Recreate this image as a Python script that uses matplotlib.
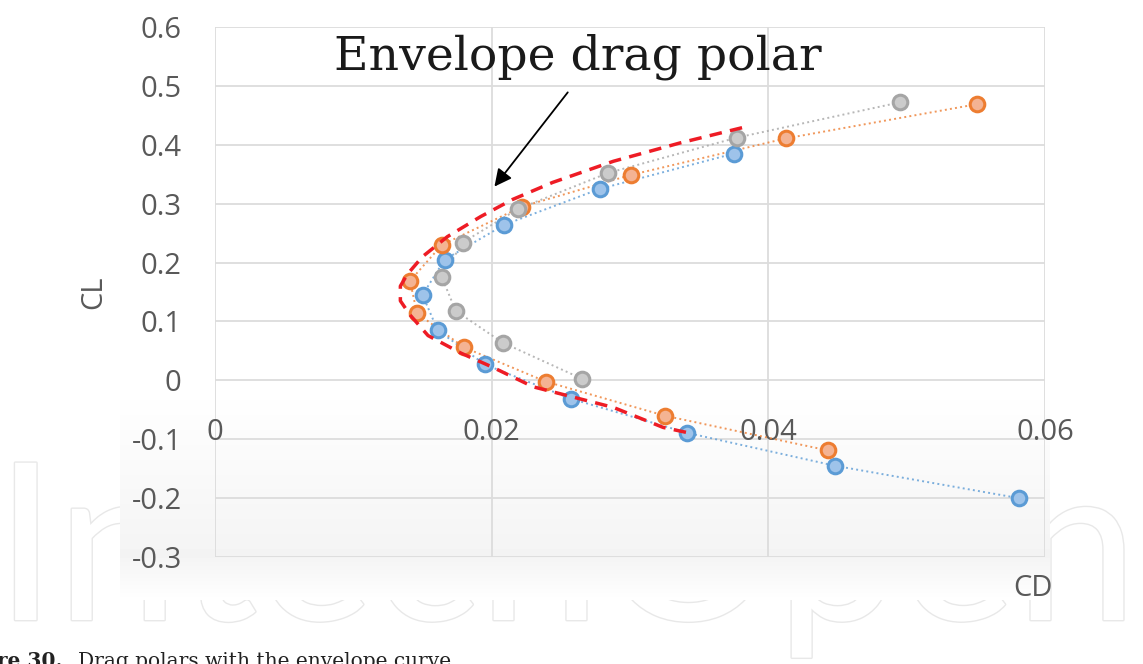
import numpy as np
import matplotlib.pyplot as plt
from matplotlib import patheffects

# drag polars, CD vs CL
cd_blue = [0.0375, 0.0278, 0.0209, 0.0166, 0.0150, 0.0161, 0.0195, 0.0257, 0.0341, 0.0448, 0.0581]
cl_blue = [0.385, 0.325, 0.264, 0.205, 0.145, 0.085, 0.027, -0.031, -0.089, -0.145, -0.200]

cd_orange = [0.0551, 0.0413, 0.0301, 0.0222, 0.0164, 0.0141, 0.0146, 0.0180, 0.0239, 0.0325, 0.0443]
cl_orange = [0.469, 0.411, 0.349, 0.295, 0.230, 0.169, 0.114, 0.056, -0.002, -0.060, -0.119]

cd_gray = [0.0495, 0.0377, 0.0284, 0.0219, 0.0179, 0.0164, 0.0174, 0.0208, 0.0265]
cl_gray = [0.472, 0.412, 0.352, 0.291, 0.234, 0.175, 0.118, 0.064, 0.003]

# envelope drawn around the polars
cd_env = [0.0381, 0.0336, 0.0288, 0.0244, 0.0215, 0.0192, 0.0168, 0.0150, 0.0139, 0.0134,
          0.0134, 0.0141, 0.0154, 0.0178, 0.0200, 0.0230, 0.0288, 0.0324, 0.0346]
cl_env = [0.429, 0.403, 0.372, 0.336, 0.307, 0.278, 0.244, 0.210, 0.180, 0.160,
          0.135, 0.111, 0.076, 0.046, 0.023, -0.011, -0.046, -0.080, -0.091]

xticks = [0, 0.02, 0.04, 0.06]
xtick_labels = ['0', '0.02', '0.04', '0.06']
yticks = [-0.3, -0.2, -0.1, 0, 0.1, 0.2, 0.3, 0.4, 0.5, 0.6]
ytick_labels = ['-0.3', '-0.2', '-0.1', '0', '0.1', '0.2', '0.3', '0.4', '0.5', '0.6']

W, H = 1143, 664
fig = plt.figure(figsize=(W / 100, H / 100), dpi=100)

# faint publisher watermark behind the chart
fig.text(-5 / W, 1 - 620 / H, 'IntechOpen', fontfamily='Lato', fontsize=158,
         color='white', ha='left', va='baseline', zorder=-2,
         path_effects=[patheffects.withStroke(linewidth=2, foreground='#e8e8e8')])

# chart background with light shading towards the bottom
bg = fig.add_axes([120 / W, 1 - 600 / H, 930 / W, 600 / H])
bg.set_zorder(-1)
rows = np.arange(600)
shade = np.ones(600)
m1 = (rows >= 385) & (rows < 556)
shade[m1] = 1 - 0.045 * (rows[m1] - 385) / (556 - 385)
m2 = (rows >= 556)
shade[m2] = 0.955 + 0.045 * (rows[m2] - 556) / (600 - 556)
bg.imshow(shade[:, None], aspect='auto', cmap='gray', vmin=0, vmax=1,
          extent=[0, 1, 0, 1])
bg.axis('off')

ax = fig.add_axes([215 / W, 1 - 557 / H, 830 / W, 530 / H])
ax.set_facecolor('none')

grid_c = '#dcdcdc'
for y in yticks:
    ax.axhline(y, color=grid_c, lw=1.3, zorder=0)
for x in xticks:
    ax.axvline(x, color=grid_c, lw=1.3, zorder=0)

series = [
    (cd_blue, cl_blue, '#5b9bd5', '#9ec3ea'),
    (cd_orange, cl_orange, '#ed7d31', '#f4b393'),
    (cd_gray, cl_gray, '#a5a5a5', '#cbcbcb'),
]
for cd, cl, edge, face in series:
    ax.plot(cd, cl, ls=':', lw=1.4, color=edge, alpha=0.8, zorder=2)
    ax.plot(cd, cl, ls='none', marker='o', ms=10.5, mew=2.2,
            mec=edge, mfc=face, zorder=3)

ax.plot(cd_env, cl_env, color='#ee1c25', lw=2.5, dashes=(3.6, 2.4), zorder=4)

ax.annotate('', xy=(0.0202, 0.329), xytext=(0.0255, 0.489),
            arrowprops=dict(arrowstyle='-|>', color='black', lw=1.3,
                            mutation_scale=26, shrinkA=0, shrinkB=0), zorder=5)
ax.text(0.0262, 0.528, 'Envelope drag polar', fontfamily='DejaVu Serif',
        fontsize=34, color='#1a1a1a', ha='center', va='baseline', zorder=5)

ax.set_xlim(0, 0.06)
ax.set_ylim(-0.3, 0.6)
for s in ax.spines.values():
    s.set_visible(False)
ax.spines['bottom'].set_position(('data', 0))

ax.set_xticks(xticks)
ax.set_xticklabels(xtick_labels)
ax.set_yticks(yticks)
ax.set_yticklabels(ytick_labels)
ax.tick_params(axis='both', length=0, labelsize=21, labelcolor='#595959')
ax.tick_params(axis='x', pad=27)
ax.tick_params(axis='y', pad=24)
for lab in ax.get_xticklabels() + ax.get_yticklabels():
    lab.set_fontfamily('Open Sans')

fig.text(94 / W, 1 - 292 / H, 'CL', rotation=90, fontfamily='Open Sans',
         fontsize=21, color='#595959', ha='center', va='center')
fig.text(1033 / W, 1 - 589 / H, 'CD', fontfamily='Open Sans',
         fontsize=21, color='#595959', ha='center', va='center')

# caption, partly cut off by the page edge
fig.text(63 / W, 1 - 667 / H, 'Figure 30.', fontfamily='DejaVu Serif',
         fontweight='bold', fontsize=14.5, color='#222222', ha='right', va='baseline')
fig.text(78 / W, 1 - 667 / H, 'Drag polars with the envelope curve',
         fontfamily='DejaVu Serif', fontsize=14.5, color='#222222',
         ha='left', va='baseline')

fig.savefig('out.png', dpi=100)
